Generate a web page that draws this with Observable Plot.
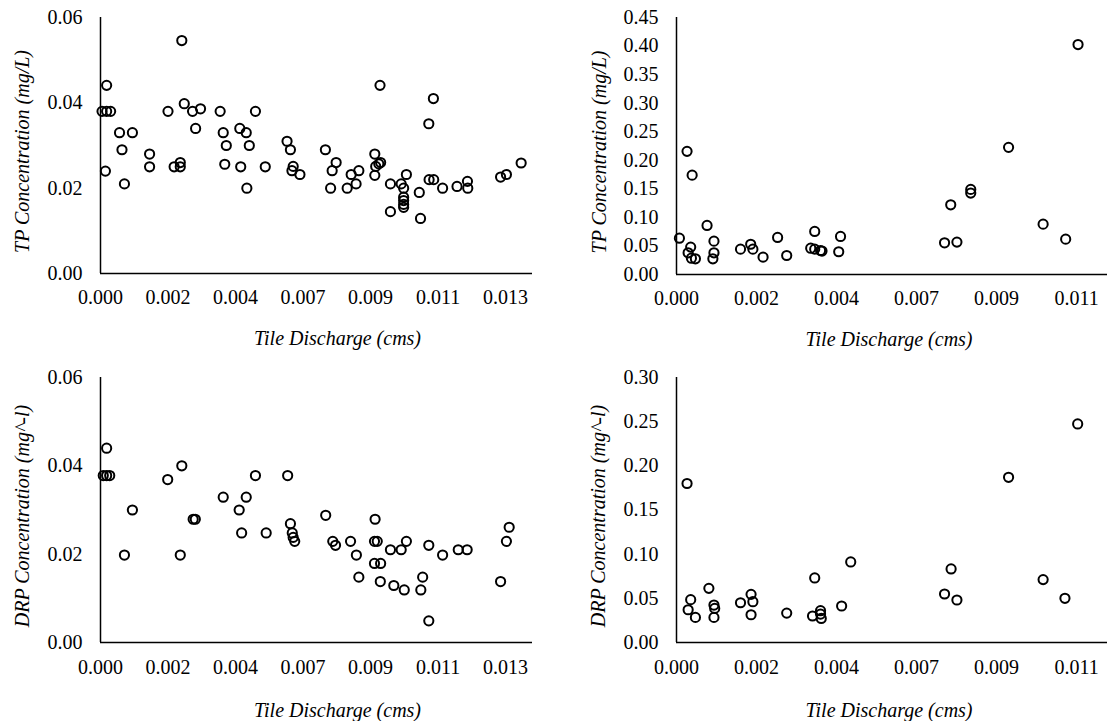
<!DOCTYPE html>
<html>
<head>
<meta charset="utf-8">
<script src="https://cdn.jsdelivr.net/npm/d3@7"></script>
<script src="https://cdn.jsdelivr.net/npm/@observablehq/plot@0.6"></script>
<style>
  html, body { margin: 0; padding: 0; background: #fff; }
  #wrap { position: relative; width: 1107px; height: 721px; overflow: hidden; }
  .panel { position: absolute; }
  .panel svg, .panel svg text { font-family: "Liberation Serif", "Times New Roman", serif !important; }
</style>
</head>
<body>
<div id="wrap">
  <div class="panel" id="p1" style="left:0;top:0"></div>
  <div class="panel" id="p2" style="left:553px;top:0"></div>
  <div class="panel" id="p3" style="left:0;top:360px"></div>
  <div class="panel" id="p4" style="left:553px;top:360px"></div>
</div>
<script>
// ---- Data (top-left: TP vs discharge, site A) ----
const tpAQ = [0.00005,0.0002,0.00033,0.0002,0.00016,0.00062,0.0007,0.00078,0.00104,0.0016,0.0016,0.0022,0.0024,0.0026,0.0026,0.00265,0.00273,0.0030,0.0031,0.00326,0.0039,0.0040,0.0041,0.00405,0.00454,0.00475,0.00485,0.00457,0.00477,0.00505,0.00537,
  0.00608,0.00619,0.00628,0.00624,0.0065,0.00733,0.00768,0.00755,0.0075,0.00804,0.00817,0.00833,0.00842,0.00911,0.00894,0.00897,0.00907,0.00913,0.00894,0.00945,0.00945,0.0098,0.00988,0.00997,0.00988,0.00988,0.00988,0.00988,0.01039,0.01043,0.0107,0.01085,0.01071,0.01086,0.01115,0.01162,0.01196,0.01197,0.01304,0.01323,0.01371];
const tpAC = [0.038,0.038,0.038,0.0441,0.024,0.033,0.029,0.021,0.033,0.028,0.025,0.038,0.025,0.026,0.025,0.0546,0.0398,0.038,0.034,0.0386,0.038,0.033,0.030,0.0256,0.034,0.033,0.030,0.025,0.020,0.038,0.025,
  0.031,0.029,0.0251,0.0241,0.0232,0.029,0.026,0.0241,0.020,0.020,0.0232,0.021,0.0241,0.0441,0.028,0.0251,0.0257,0.026,0.023,0.021,0.0145,0.021,0.020,0.0232,0.0179,0.0171,0.0162,0.0155,0.019,0.0129,0.0351,0.041,0.022,0.022,0.020,0.0204,0.0216,0.020,0.0226,0.0232,0.0259];

// ---- Data (top-right: TP vs discharge, site B) ----
const tpBQ = [0.00008,0.00029,0.00043,0.00039,0.00032,0.00041,0.00052,0.00084,0.00103,0.00103,0.0010,0.00176,0.00204,0.0021,0.00238,0.00278,0.00303,0.0038,0.00369,0.0038,0.00396,0.0040,0.00451,0.00446,
  0.00737,0.00771,0.00754,0.00809,0.00809,0.00913,0.01008,0.0107,0.01104];
const tpBC = [0.0636,0.2156,0.174,0.048,0.038,0.0286,0.0275,0.0859,0.0584,0.038,0.0275,0.0444,0.053,0.0444,0.0304,0.0649,0.0333,0.0754,0.0461,0.0444,0.042,0.041,0.0666,0.0398,
  0.0555,0.0567,0.122,0.149,0.1426,0.2226,0.0882,0.0619,0.4026];

// ---- Data (bottom-left: DRP vs discharge, site A) ----
const drpAQ = [0.00009,0.0002,0.0003,0.0002,0.00078,0.00104,0.00219,0.00265,0.0026,0.00302,0.00309,0.0040,0.00452,0.00475,0.0046,0.00505,0.0054,
  0.0061,0.00619,0.00625,0.00628,0.00633,0.00734,0.00757,0.00766,0.00815,0.00834,0.00842,0.00895,0.00893,0.00902,0.00893,0.00913,0.00912,0.00945,0.00956,0.0098,0.00997,0.0099,0.01044,0.0105,0.0107,0.0107,0.01115,0.01166,0.01195,0.01304,0.01323,0.01332];
const drpAC = [0.0378,0.0378,0.0378,0.044,0.0198,0.030,0.0369,0.040,0.0198,0.0279,0.0279,0.0329,0.030,0.0329,0.0248,0.0378,0.0248,
  0.0378,0.0269,0.0248,0.0238,0.0229,0.0288,0.0229,0.022,0.0229,0.0198,0.0148,0.0279,0.0229,0.0229,0.0179,0.0179,0.0138,0.021,0.0129,0.021,0.0229,0.0119,0.0119,0.0148,0.022,0.0049,0.0198,0.021,0.021,0.0138,0.0229,0.0261];

// ---- Data (bottom-right: DRP vs discharge, site B) ----
const drpBQ = [0.00029,0.00039,0.00032,0.00052,0.00089,0.00103,0.00105,0.00103,0.00176,0.00205,0.0021,0.00205,0.00303,0.0038,0.00374,0.00396,0.00396,0.00398,0.00454,
  0.00479,0.00737,0.00771,0.00755,0.00913,0.01008,0.01068,0.01103];
const drpBC = [0.180,0.0485,0.0371,0.0284,0.0613,0.0424,0.0386,0.0284,0.045,0.0545,0.0462,0.0314,0.0333,0.0731,0.030,0.036,0.0322,0.0272,0.0413,
  0.0912,0.0549,0.0481,0.0833,0.187,0.0712,0.050,0.2474];

// ---- Ticks / labels ----
const xTicksA = [0, 0.0022, 0.0044, 0.0066, 0.0088, 0.011, 0.0132];
const xTicksB = [0, 0.0022, 0.0044, 0.0066, 0.0088, 0.011];
const yTicksSmall = [0, 0.02, 0.04, 0.06];
const yTicksTPB = [0, 0.05, 0.10, 0.15, 0.20, 0.25, 0.30, 0.35, 0.40, 0.45];
const yTicksDRPB = [0, 0.05, 0.10, 0.15, 0.20, 0.25, 0.30];
const xTitle = "Tile Discharge (cms)";
const yTitleTP = "TP Concentration (mg/L)";
const yTitleDRP = "DRP Concentration (mg^-l)";

const FONT = "Liberation Serif, Times New Roman, serif";
const FS = 20;

function panel(opts) {
  const rows = opts.xs.map((x, i) => ({x, y: opts.ys[i]}));
  return Plot.plot({
    width: opts.width,
    height: opts.height,
    marginLeft: opts.ml,
    marginRight: opts.mr,
    marginTop: opts.mt,
    marginBottom: opts.mb,
    style: {fontFamily: FONT, fontSize: FS + "px", color: "#000", background: "#fff", overflow: "visible"},
    x: {domain: opts.xDomain},
    y: {domain: opts.yDomain},
    marks: [
      Plot.axisX({ticks: opts.xTicks, tickSize: 0, tickPadding: opts.xPad, tickFormat: d3.format(".3f"), label: null, fontSize: FS}),
      Plot.axisY({ticks: opts.yTicks, tickSize: 0, tickPadding: 18, tickFormat: d3.format(".2f"), label: null, fontSize: FS}),
      Plot.ruleY([0], {stroke: "#000", strokeWidth: 1.5}),
      Plot.ruleX([0], {stroke: "#000", strokeWidth: 1.5}),
      Plot.dot(rows, {x: "x", y: "y", r: 4.6, stroke: "#000", strokeWidth: 2, fill: "none"}),
      Plot.text([opts.yTitle], {frameAnchor: "left", textAnchor: "middle", dx: opts.yTitleDx, dy: 6, rotate: -90, fontSize: FS, fontStyle: "italic", fill: "#000"}),
      Plot.text([xTitle], {frameAnchor: "bottom", textAnchor: "middle", dx: opts.xTitleDx, dy: opts.xTitleDy, fontSize: FS, fontStyle: "italic", fill: "#000", lineAnchor: "middle"})
    ]
  });
}

document.getElementById("p1").append(panel({
  xs: tpAQ, ys: tpAC, width: 553, height: 355, ml: 100, mr: 21, mt: 17, mb: 82,
  xDomain: [0, 0.01408], yDomain: [0, 0.06], xTicks: xTicksA, yTicks: yTicksSmall, xPad: 16,
  yTitle: yTitleTP, yTitleDx: -78, xTitleDx: 21, xTitleDy: 65
}));
document.getElementById("p2").append(panel({
  xs: tpBQ, ys: tpBC, width: 554, height: 355, ml: 123, mr: 0, mt: 17, mb: 81,
  xDomain: [0, 0.01185], yDomain: [0, 0.45], xTicks: xTicksB, yTicks: yTicksTPB, xPad: 16,
  yTitle: yTitleTP, yTitleDx: -77, xTitleDx: -3, xTitleDy: 65
}));
document.getElementById("p3").append(panel({
  xs: drpAQ, ys: drpAC, width: 553, height: 361, ml: 100, mr: 21, mt: 17, mb: 79,
  xDomain: [0, 0.01408], yDomain: [0, 0.06], xTicks: xTicksA, yTicks: yTicksSmall, xPad: 17,
  yTitle: yTitleDRP, yTitleDx: -78, xTitleDx: 21, xTitleDy: 68
}));
document.getElementById("p4").append(panel({
  xs: drpBQ, ys: drpBC, width: 554, height: 361, ml: 123, mr: 0, mt: 17, mb: 79,
  xDomain: [0, 0.01185], yDomain: [0, 0.30], xTicks: xTicksB, yTicks: yTicksDRPB, xPad: 17,
  yTitle: yTitleDRP, yTitleDx: -78, xTitleDx: -3, xTitleDy: 68
}));
</script>
</body>
</html>
